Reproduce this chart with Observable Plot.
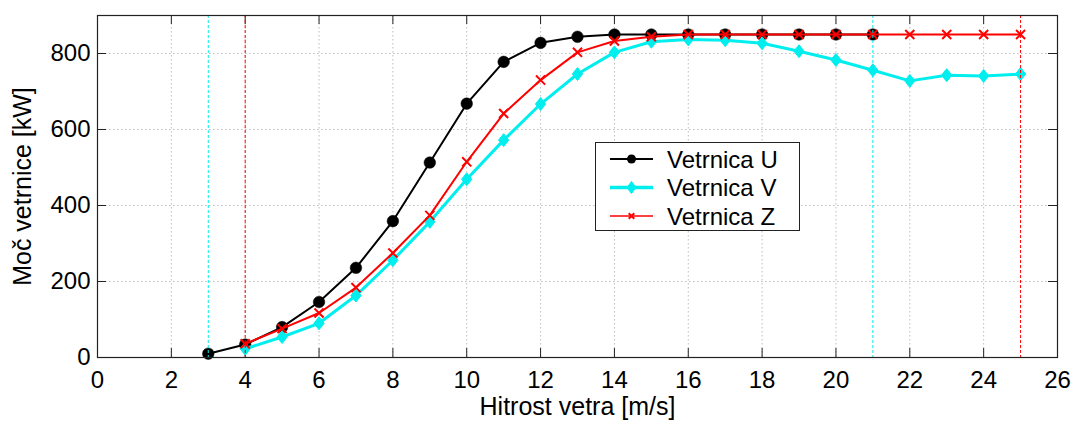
<!DOCTYPE html>
<html><head><meta charset="utf-8">
<script src="https://cdn.jsdelivr.net/npm/d3@7"></script>
<script src="https://cdn.jsdelivr.net/npm/@observablehq/plot@0.6"></script>
<style>
body{margin:0;background:#fff;}
#wrap{position:relative;width:1074px;height:421px;font-family:"Liberation Sans",Arial,sans-serif;}
#legend{position:absolute;left:595px;top:142px;width:205px;height:89px;border:1.3px solid #222;background:#fff;box-sizing:border-box;}
g[aria-label="x-axis label"] text, g[aria-label="y-axis label"] text{font-size:25px;}
</style></head><body><div id="wrap"><div id="legend"></div></div>
<script>
// ---- data ----
const xTicks = [0, 2, 4, 6, 8, 10, 12, 14, 16, 18, 20, 22, 24, 26];
const yTicks = [0, 200, 400, 600, 800];

const seriesNames = ["Vetrnica U", "Vetrnica V", "Vetrnica Z"];
const seriesColors = ["#000000", "#00eeee", "#ff0000"];

const speedU = [3, 4, 5, 6, 7, 8, 9, 10, 11, 12, 13, 14, 15, 16, 17, 18, 19, 20, 21];
const powerU = [10, 34, 80, 146, 236, 359, 513, 668, 778, 828, 844, 850, 850, 850, 850, 850, 850, 850, 850];

const speedV = [4, 5, 6, 7, 8, 9, 10, 11, 12, 13, 14, 15, 16, 17, 18, 19, 20, 21, 22, 23, 24, 25];
const powerV = [23, 54, 90, 163, 256, 357, 469, 572, 667, 746, 803, 831, 837, 835, 827, 806, 783, 756, 728, 743, 741, 746];

const speedZ = [4, 5, 6, 7, 8, 9, 10, 11, 12, 13, 14, 15, 16, 17, 18, 19, 20, 21, 22, 23, 24, 25];
const powerZ = [36, 76, 117, 184, 275, 374, 515, 642, 730, 803, 833, 844, 850, 850, 850, 850, 850, 850, 850, 850, 850, 850];

// cut-in / cut-out speeds (dashed vertical lines)
const cutSpeeds = [3, 21, 4, 25];
const cutColors = ["#00eeee", "#00eeee", "#ff0000", "#ff0000"];

// ---- build tables ----
const rowsU = speedU.map((s, i) => ({speed: s, power: powerU[i]}));
const rowsV = speedV.map((s, i) => ({speed: s, power: powerV[i]}));
const rowsZ = speedZ.map((s, i) => ({speed: s, power: powerZ[i]}));
const cuts = cutSpeeds.map((s, i) => ({speed: s, color: cutColors[i]}));

const W = 1074, H = 421, mL = 97, mR = 17, mT = 15, mB = 64;
const plotW = W - mL - mR, plotH = H - mT - mB, tickLen = 9;

const diamond = {
  draw(ctx, size) {
    const r = Math.sqrt(size / Math.PI);
    ctx.moveTo(0, -r * 1.2);
    ctx.lineTo(r * 0.95, 0);
    ctx.lineTo(0, r * 1.2);
    ctx.lineTo(-r * 0.95, 0);
    ctx.closePath();
  }
};

const chart = Plot.plot({
  width: W, height: H,
  marginLeft: mL, marginRight: mR, marginTop: mT, marginBottom: mB,
  style: {fontFamily: "Liberation Sans, Arial, sans-serif", fontSize: "24px", background: "white", color: "black"},
  x: {domain: [0, 26]},
  y: {domain: [0, 900]},
  marks: [
    Plot.gridX(xTicks, {stroke: "#bdbdbd", strokeOpacity: 1, strokeDasharray: "1.5,2.5"}),
    Plot.gridY(yTicks, {stroke: "#bdbdbd", strokeOpacity: 1, strokeDasharray: "1.5,2.5"}),
    Plot.tickX(xTicks, {x: d => d, insetTop: plotH - tickLen, stroke: "#222"}),
    Plot.tickX(xTicks, {x: d => d, insetBottom: plotH - tickLen, stroke: "#222"}),
    Plot.tickY(yTicks, {y: d => d, insetRight: plotW - tickLen, stroke: "#222"}),
    Plot.tickY(yTicks, {y: d => d, insetLeft: plotW - tickLen, stroke: "#222"}),
    Plot.axisX(xTicks, {tickSize: 0, tickPadding: 13, label: "Hitrost vetra [m/s]", labelAnchor: "center", labelOffset: 57, labelArrow: "none"}),
    Plot.axisY(yTicks, {tickSize: 0, tickPadding: 7, label: "Moč vetrnice [kW]", labelAnchor: "center", labelOffset: 84, labelArrow: "none"}),
    Plot.line(rowsU, {x: "speed", y: "power", stroke: seriesColors[0], strokeWidth: 2}),
    Plot.dot(rowsU, {x: "speed", y: "power", r: 5.8, fill: seriesColors[0], stroke: seriesColors[0], strokeWidth: 0.5}),
    Plot.line(rowsV, {x: "speed", y: "power", stroke: seriesColors[1], strokeWidth: 3}),
    Plot.dot(rowsV, {x: "speed", y: "power", r: 5.4, symbol: diamond, fill: seriesColors[1], stroke: seriesColors[1], strokeWidth: 1}),
    Plot.line(rowsZ, {x: "speed", y: "power", stroke: seriesColors[2], strokeWidth: 2}),
    Plot.dot(rowsZ, {x: "speed", y: "power", r: 4.2, symbol: "times", stroke: seriesColors[2], strokeWidth: 2}),
    Plot.ruleX(cuts, {x: "speed", stroke: "color", strokeWidth: 1, strokeDasharray: "3,2"}),
    Plot.frame({stroke: "#222", strokeWidth: 1.2})
  ]
});
const wrap = document.getElementById("wrap");
wrap.insertBefore(chart, wrap.firstChild);

// ---- legend ----
const lg = d3.select("#legend").append("svg").attr("width", 203).attr("height", 87)
  .style("position", "absolute").style("left", "0px").style("top", "0px");
const rowY = [16, 44.5, 73];
const legLineW = [2, 3.5, 1.5];
const legSym = [d3.symbol(d3.symbolCircle, 64), null, d3.symbol(d3.symbolTimes, 22)];
seriesNames.forEach((name, i) => {
  const g = lg.append("g").attr("transform", `translate(0,${rowY[i]})`);
  g.append("line").attr("x1", 14).attr("x2", 57).attr("y1", 0).attr("y2", 0)
    .attr("stroke", seriesColors[i]).attr("stroke-width", legLineW[i]);
  const m = g.append("g").attr("transform", "translate(35.5,0)");
  if (i === 0) m.append("path").attr("d", legSym[0]()).attr("fill", seriesColors[0]);
  else if (i === 1) m.append("path").attr("d", "M0,-6L4.5,0L0,6L-4.5,0Z").attr("fill", seriesColors[1]).attr("stroke", seriesColors[1]);
  else m.append("path").attr("d", legSym[2]()).attr("fill", "none").attr("stroke", seriesColors[2]).attr("stroke-width", 2);
  g.append("text").attr("x", 71).attr("y", 8.6).text(name)
    .attr("font-family", "Liberation Sans, Arial, sans-serif").attr("font-size", 24).attr("fill", "#000");
});
</script>
</body></html>
